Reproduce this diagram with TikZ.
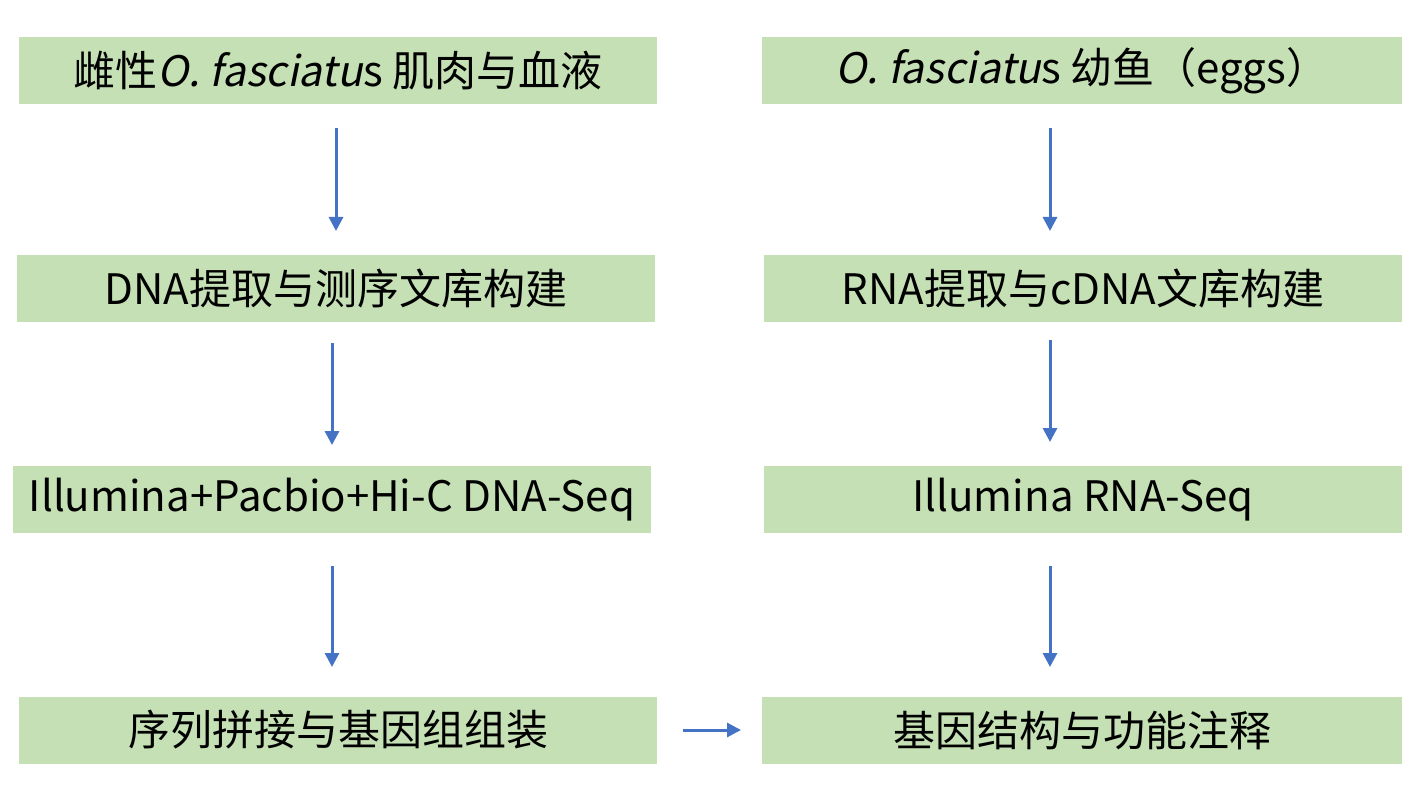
\documentclass[tikz,border=0pt]{standalone}
\usepackage{fontspec}
\setmainfont{Noto Sans CJK SC}
\newfontfamily\itfont[FakeSlant=0.2]{Noto Sans CJK SC}
\usetikzlibrary{arrows.meta}
\definecolor{boxgreen}{HTML}{C5E0B4}
\definecolor{arrowblue}{HTML}{4472C4}
\tikzset{
  stepbox/.style={fill=boxgreen, draw=none, minimum height=67pt, inner sep=0pt, font=\fontsize{42}{46}\selectfont},
  flowarrow/.style={draw=arrowblue, line width=3pt, -{Triangle[length=14pt,width=14pt]}}
}
\begin{document}
\begin{tikzpicture}[x=1pt,y=-1pt]
\useasboundingbox (0,0) rectangle (1426,799);
% left column
\node[stepbox, minimum width=638pt] (l1) at (338,70.5) {雌性{\itfont O. fasciatu}s 肌肉与血液};
\node[stepbox, minimum width=638pt] (l2) at (336,288.5) {DNA提取与测序文库构建};
\node[stepbox, minimum width=638pt] (l3) at (332,499.5) {Illumina+Pacbio+Hi-C DNA-Seq};
\node[stepbox, minimum width=638pt] (l4) at (338,730) {序列拼接与基因组组装};
% right column
\node[stepbox, minimum width=640pt] (r1) at (1082,70.5) {{\itfont O. fasciatu}s 幼鱼（eggs）};
\node[stepbox, minimum width=638pt] (r2) at (1083,288.5) {RNA提取与cDNA文库构建};
\node[stepbox, minimum width=638pt] (r3) at (1083,499.5) {Illumina RNA-Seq};
\node[stepbox, minimum width=640pt] (r4) at (1082,730) {基因结构与功能注释};
% arrow endpoints
\coordinate (a1s) at (336,128); \coordinate (a1e) at (336,231);
\coordinate (a2s) at (332,343); \coordinate (a2e) at (332,445);
\coordinate (a3s) at (332,566); \coordinate (a3e) at (332,667);
\coordinate (b1s) at (1050,128); \coordinate (b1e) at (1050,231);
\coordinate (b2s) at (1050,340); \coordinate (b2e) at (1050,442);
\coordinate (b3s) at (1050,566); \coordinate (b3e) at (1050,667);
\coordinate (hs) at (683,730); \coordinate (he) at (741,730);
\draw[flowarrow] (a1s) -- (a1e);
\draw[flowarrow] (a2s) -- (a2e);
\draw[flowarrow] (a3s) -- (a3e);
\draw[flowarrow] (b1s) -- (b1e);
\draw[flowarrow] (b2s) -- (b2e);
\draw[flowarrow] (b3s) -- (b3e);
\draw[flowarrow] (hs) -- (he);
\end{tikzpicture}
\end{document}
